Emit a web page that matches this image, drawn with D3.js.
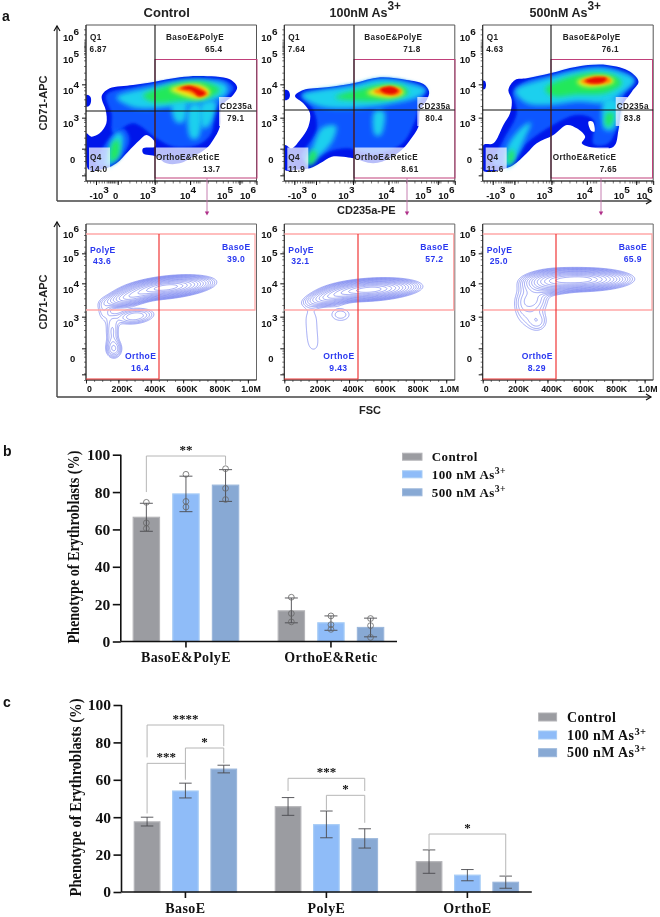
<!DOCTYPE html>
<html><head><meta charset="utf-8">
<script src="https://cdnjs.cloudflare.com/ajax/libs/d3/7.8.5/d3.min.js"></script>
<style>html,body{margin:0;padding:0;background:#fff}svg{display:block;filter:blur(0.35px)}</style>
</head><body><svg id="c" width="660" height="917"></svg>
<script>
// ---------- bar chart data ----------
const seriesNames = ["Control", "100 nM As", "500 nM As"];
const seriesSup = ["", "3+", "3+"];
const seriesFill = ["#9b9ca1", "#8fbcf8", "#88a9d4"];
const seriesEdge = ["#b4b4b8", "#a8cdf6", "#9db8dc"];

const groupsB = ["BasoE&PolyE", "OrthoE&Retic"];
const meansB = [[66.5, 79, 83.7], [16.4, 10, 7.5]];
const lowB = [[59, 69.5, 75], [10, 6, 2.5]];
const highB = [[74, 88.5, 92], [23.3, 13.7, 12.5]];
const pointsB = [[[74.5, 63.5, 60.5], [89.5, 75, 72], [92.5, 82, 76]],
                 [[23.7, 15, 10.5], [13.7, 9, 6.5], [12.3, 8.5, 2.2]]];
// bracket: group, from series, to series, top, left end, right end, label
const bracketsB = [[0, 0, 2, 99.3, 80, 94.6, "**"]];

const groupsC = ["BasoE", "PolyE", "OrthoE"];
const meansC = [[37.5, 54, 65.7], [45.6, 36, 28.5], [16.2, 9, 5.2]];
const lowC = [[35.3, 50.3, 63.7], [41, 29, 23.5], [10, 6, 2]];
const highC = [[40, 58.2, 67.8], [50.5, 43.3, 33.8], [22.5, 12, 8.5]];
const bracketsC = [
  [0, 0, 2, 89.3, 72, 78, "****"],
  [0, 0, 1, 68.8, 42, 60.8, "***"],
  [0, 1, 2, 77, 60, 68.8, "*"],
  [1, 0, 2, 60.8, 54, 54, "***"],
  [1, 1, 2, 51.7, 43.9, 37, "*"],
  [2, 0, 2, 31, 22.5, 8.2, "*"]
];
const yTicks = [0, 20, 40, 60, 80, 100];

// ---------- flow panels: labels ----------
const conditionTitles = ["Control", "100nM As", "500nM As"];
const topValues = [
  {q1: "6.87", baso: "65.4", cd: "79.1", ortho: "13.7", q4: "14.0"},
  {q1: "7.64", baso: "71.8", cd: "80.4", ortho: "8.61", q4: "11.9"},
  {q1: "4.63", baso: "76.1", cd: "83.8", ortho: "7.65", q4: "11.6"}
];
const bottomValues = [
  {poly: "43.6", baso: "39.0", ortho: "16.4"},
  {poly: "32.1", baso: "57.2", ortho: "9.43"},
  {poly: "25.0", baso: "65.9", ortho: "8.29"}
];
const fscTicks = [0, 200, 400, 600, 800, 1000];
const fscLabels = ["0", "200K", "400K", "600K", "800K", "1.0M"];
const densityColors = ["#0616ea", "#0a56ff", "#1fd0ee", "#22e85a", "#f2f01e", "#ff8400", "#e80a00"];

// pseudocolour density outlines in channel units [level, points]
const densityControl = [
 [0,[[307,285],[330,265],[400,255],[465,245],[540,232],[600,228],[690,238],[712,262],[700,285],[665,320],[660,380],[640,420],[620,445],[580,470],[540,490],[500,490],[470,470],[430,460],[430,445],[465,440],[465,425],[440,405],[420,420],[385,455],[350,490],[320,505],[270,510],[262,500],[260,400],[275,410],[300,400],[320,370],[318,330],[307,300]]],
 [0,[[260,285],[272,290],[274,305],[268,318],[260,320]]],
 [1,[[320,285],[400,262],[470,248],[540,238],[600,234],[680,243],[702,265],[675,295],[645,330],[635,400],[595,435],[520,440],[470,415],[400,370],[340,400],[335,340]]],
 [1,[[290,495],[325,420],[370,385],[390,420],[350,485]]],
 [2,[[350,292],[470,258],[540,243],[610,240],[680,255],[680,282],[620,305],[540,315],[470,325],[400,322]]],
 [2,[[518,305],[558,305],[552,365],[528,365]]],
 [2,[[570,315],[602,315],[594,415],[573,415]]],
 [2,[[606,310],[648,305],[630,375],[610,385]]],
 [2,[[322,500],[332,430],[355,396],[370,408],[362,460],[335,492]]],
 [3,[[334,484],[338,430],[356,420],[354,472]]],
 [3,[[430,288],[500,258],[560,246],[625,248],[660,270],[625,293],[540,303],[470,308]]],
 [4,[[510,268],[560,254],[610,258],[632,278],[600,296],[550,287]]],
 [5,[[530,267],[565,256],[605,263],[625,282],[600,292],[565,278]]],
 [6,[[542,265],[570,258],[598,268],[617,280],[600,289],[575,272]]]
];
const density100 = [
 [0,[[105,288],[130,270],[200,262],[280,250],[360,232],[440,240],[490,252],[507,275],[500,300],[480,330],[475,380],[450,420],[430,445],[390,475],[340,490],[280,475],[250,470],[215,470],[180,490],[150,505],[100,510],[75,510],[75,435],[95,445],[120,420],[145,380],[150,340],[130,310]]],
 [0,[[73,270],[85,272],[90,285],[85,298],[73,300]]],
 [1,[[125,285],[200,268],[280,253],[360,236],[440,243],[497,268],[482,300],[462,370],[425,432],[340,462],[260,445],[190,462],[150,492],[125,470],[170,390],[160,330]]],
 [2,[[125,286],[280,256],[360,238],[440,248],[498,270],[472,292],[400,310],[280,325],[175,318]]],
 [2,[[138,492],[158,440],[188,382],[228,378],[218,422],[172,472]]],
 [2,[[343,335],[372,335],[362,405],[345,405]]],
 [3,[[145,495],[155,450],[170,460],[160,490]]],
 [3,[[225,292],[300,268],[370,253],[432,260],[445,280],[400,297],[300,303]]],
 [4,[[320,278],[370,260],[420,265],[432,280],[390,293]]],
 [5,[[340,274],[385,260],[425,270],[415,285],[375,286]]],
 [6,[[360,268],[395,260],[415,272],[400,282],[370,278]]]
];
const density500 = [
 [0,[[745,270],[765,240],[800,235],[870,220],[950,200],[1040,195],[1110,215],[1135,245],[1115,275],[1085,320],[1075,390],[1060,440],[985,440],[965,430],[975,410],[950,385],[920,375],[880,405],[830,430],[800,460],[760,495],[720,510],[670,512],[670,435],[700,430],[730,375],[750,340],[755,300]]],
 [0,[[668,242],[675,244],[678,255],[675,266],[668,268]]],
 [1,[[760,275],[800,243],[870,226],[950,206],[1040,201],[1122,240],[1092,285],[1072,380],[1042,432],[1000,432],[1000,360],[950,345],[870,380],[800,430],[750,492],[700,492],[730,420],[770,340]]],
 [2,[[765,272],[870,232],[950,212],[1040,206],[1124,240],[1082,282],[1040,308],[950,305],[870,315],[800,310]]],
 [2,[[1033,300],[1072,300],[1060,388],[1033,388]]],
 [2,[[738,502],[743,438],[790,378],[812,368],[792,420],[762,482]]],
 [3,[[1040,340],[1060,340],[1050,378],[1038,378]]],
 [3,[[745,490],[750,450],[762,455],[755,490]]],
 [3,[[855,267],[920,233],[1000,218],[1065,228],[1085,250],[1040,278],[950,283],[880,288]]],
 [4,[[950,245],[1000,228],[1050,232],[1062,245],[1020,259],[970,259]]],
 [5,[[962,244],[1005,229],[1048,234],[1052,245],[1020,253],[985,254]]],
 [6,[[975,243],[1010,232],[1040,235],[1030,247],[995,250]]]
];
const densityHole500 = [[985,365],[998,365],[1003,395],[993,392]];

// contour-plot populations: [FSC (K), CD71 channel, spread FSC, spread CD71, tilt, height]
const populationsControl = [
 [500, 277, 118, 13.5, 0.05, 1],
 [280, 250, 85, 13, 0.1, 0.4],
 [170, 92, 30, 17, 0, 0.125],
 [160, 145, 28, 30, 0, 0.08],
 [300, 190, 72, 14, 0.05, 0.13],
 [105, 205, 28, 22, 0, 0.05]
];
const populations100 = [
 [530, 270, 125, 13.5, 0.03, 1],
 [300, 250, 90, 13, 0.09, 0.32],
 [179, 95, 45, 22, 0, 0.029],
 [170, 130, 45, 22, 0, 0.029],
 [165, 165, 45, 22, 0, 0.029],
 [160, 200, 45, 22, 0, 0.029],
 [345, 195, 55, 18, 0, 0.055]
];
const populations500 = [
 [600, 300, 130, 14, 0.005, 1],
 [420, 292, 85, 17, 0.03, 0.4],
 [335, 175, 45, 22, 0, 0.07],
 [245, 210, 45, 38, 0, 0.045],
 [310, 240, 60, 25, 0, 0.1]
];
const contourLevels = [0.035, 0.046, 0.06, 0.078, 0.1, 0.13, 0.17, 0.22, 0.28, 0.36, 0.46, 0.58, 0.72, 0.87];

// ---------- layout ----------
const svg = d3.select("#c");
const SANS = "'Liberation Sans',Arial,sans-serif", SERIF = "'Liberation Serif','Times New Roman',serif";
const panelLeft = [86, 284.3, 482.7], panelW = 170.5;
const densityOrigin = [259, 73, 668];
const densities = [densityControl, density100, density500];
const populations = [populationsControl, populations100, populations500];
const gateV = [155, 354, 551], gateH = [111, 110, 110], arrowX = [207, 407, 601];
const magentaRight = [257, 455, 652.5];
const redV = [159, 358, 556], redR = [255, 453.7, 652];

function txt(x, y, s, o = {}) {
  const t = svg.append("text").attr("x", x).attr("y", y).text(s)
    .attr("font-family", o.f || SANS).attr("font-weight", o.w || "bold")
    .attr("font-size", o.s || 8.5).attr("fill", o.c || "#111")
    .attr("text-anchor", o.a || "start");
  if (o.ls) t.attr("letter-spacing", o.ls);
  if (o.len) t.attr("textLength", o.len).attr("lengthAdjust", "spacingAndGlyphs");
  if (o.r !== undefined) t.attr("transform", `rotate(${o.r},${x},${y})`);
  return t;
}
function sup(x, y, base, power, o, dy = -5, ss = 0.8) {
  const t = txt(x, y, base, o);
  t.append("tspan").attr("dy", dy).attr("font-size", (o.s || 8.5) * ss).text(power);
  return t;
}

const defs = svg.append("defs");
[0.7, 1.6, 2.4, 2.8, 2.2, 1.6, 1.3].forEach((b, i) => {
  defs.append("filter").attr("id", "blur" + i).attr("x", "-30%").attr("y", "-30%").attr("width", "160%").attr("height", "160%")
    .append("feGaussianBlur").attr("stdDeviation", b);
});

// big L-shaped axes
function bigAxis(x, yTop, yBot, xEnd) {
  svg.append("line").attr("x1", x).attr("x2", x).attr("y1", yTop).attr("y2", yBot).attr("stroke", "#333").attr("stroke-width", 1.3);
  svg.append("line").attr("x1", x).attr("x2", xEnd).attr("y1", yBot).attr("y2", yBot).attr("stroke", "#444").attr("stroke-width", 1.3);
  svg.append("path").attr("d", `M${x-3},${yTop+5} L${x},${yTop} L${x+3},${yTop+5}`).attr("fill", "none").attr("stroke", "#111").attr("stroke-width", 1.2);
  svg.append("path").attr("d", `M${xEnd-5},${yBot-3} L${xEnd},${yBot} L${xEnd-5},${yBot+3}`).attr("fill", "none").attr("stroke", "#111").attr("stroke-width", 1.2);
}
bigAxis(57, 26, 201, 651);
bigAxis(57, 222, 397, 651);

const logYTicks = ["6", "5", "4", "3"];

function flowFrame(i, top, bottom, gray) {
  const L = panelLeft[i], R = L + panelW;
  svg.append("path").attr("d", `M${L},${bottom} V${top} H${R} V${bottom} H${L}`).attr("fill", "none").attr("stroke", gray).attr("stroke-width", 1);
  svg.append("line").attr("x1", L).attr("x2", L).attr("y1", top).attr("y2", bottom).attr("stroke", "#222").attr("stroke-width", 0.9);
  svg.append("line").attr("x1", L).attr("x2", R).attr("y1", bottom).attr("y2", bottom).attr("stroke", "#222").attr("stroke-width", 0.9);
}

panelLeft.forEach((L, i) => {
  const R = L + panelW, T = 25, B = 181;
  // ---- top row ----
  const o = densityOrigin[i];
  const sx = d3.scaleLinear().domain([o, o + 511]).range([L, R]);
  const sy = d3.scaleLinear().domain([543, 75]).range([B, T]);
  const line = d3.line().x(d => sx(d[0])).y(d => sy(d[1])).curve(d3.curveCatmullRomClosed.alpha(0.5));
  const clipId = "clipTop" + i;
  defs.append("clipPath").attr("id", clipId).append("rect").attr("x", L).attr("y", T).attr("width", panelW).attr("height", B - T);
  const g = svg.append("g").attr("clip-path", `url(#${clipId})`);
  densities[i].forEach(([lvl, pts]) => {
    g.append("path").attr("d", line(pts)).attr("fill", densityColors[lvl]).attr("filter", `url(#blur${lvl})`);
  });
  if (i === 2) g.append("path").attr("d", line(densityHole500)).attr("fill", "#fff");
  // translucent label boxes
  const box = (x0, y0, x1, y1) => svg.append("rect").attr("x", L + x0).attr("y", y0).attr("width", x1 - x0).attr("height", y1 - y0).attr("fill", "#fff").attr("opacity", 0.72);
  box(3, 147.5, 24, 170);
  box(133, 97, 145, 126);
  box(70, 147.5, 126, 165);
  flowFrame(i, T, B, "#555");

  // axes ticks
  const xAx = d3.scaleLinear().domain([0, 511]).range([L, R]);
  const minorX = [3, 12, 22, 30, 38, 47, 54, 62, 66, 70, 72, 76, 78, 82, 84, 88, 95, 105, 130, 150, 165, 180, 190, 198, 204, 208, 212, 235, 260, 280, 300, 312, 322, 330, 335, 340, 365, 390, 410, 425, 440, 448, 455, 460, 464, 468, 490, 505, 509];
  const ax = svg.append("g").attr("transform", `translate(0,${B})`)
    .call(d3.axisBottom(xAx).tickValues(minorX).tickSize(2.5).tickFormat(""));
  ax.select(".domain").remove();
  ax.selectAll("line").attr("stroke", "#222").attr("stroke-width", 0.6);
  const majorX = svg.append("g").attr("transform", `translate(0,${B})`)
    .call(d3.axisBottom(xAx).tickValues([30, 95, 206, 312, 460, 511]).tickSize(4).tickFormat(""));
  majorX.select(".domain").remove();
  majorX.selectAll("line").attr("stroke", "#111").attr("stroke-width", 1);

  const yAx = d3.scaleLinear().domain([468, 0]).range([T, B]);
  const yTickG = svg.append("g").attr("transform", `translate(${L},0)`)
    .call(d3.axisLeft(yAx).tickValues([17, 97, 190, 290]).tickSize(4).tickFormat(""));
  yTickG.select(".domain").remove();
  yTickG.selectAll("line").attr("stroke", "#111");
  const yMinor = svg.append("g").attr("transform", `translate(${L},0)`)
    .call(d3.axisLeft(yAx).tickValues([0,22,40,60,75,85,92,110,130,150,165,177,184,203,225,245,260,272,282,305,325,345,362,372,380,384,390,394,398,402,405,409,413,418,424,440,455]).tickSize(2).tickFormat(""));
  yMinor.select(".domain").remove();
  yMinor.selectAll("line").attr("stroke", "#222").attr("stroke-width", 0.6);

  // gates
  svg.append("rect").attr("x", gateV[i]).attr("y", 59.5).attr("width", magentaRight[i] - gateV[i]).attr("height", 118.5).attr("fill", "none").attr("stroke", "#c0407a").attr("stroke-width", 1);
  svg.append("line").attr("x1", gateV[i]).attr("x2", gateV[i]).attr("y1", T).attr("y2", B).attr("stroke", "#111").attr("stroke-width", 1.1);
  svg.append("line").attr("x1", L).attr("x2", R).attr("y1", gateH[i]).attr("y2", gateH[i]).attr("stroke", "#111").attr("stroke-width", 1.1);

  // magenta arrow
  svg.append("line").attr("x1", arrowX[i]).attr("x2", arrowX[i]).attr("y1", 178).attr("y2", 212).attr("stroke", "#c070a8").attr("stroke-width", 0.9);
  svg.append("path").attr("d", d3.line()([[arrowX[i] - 2.2, 211.5], [arrowX[i] + 2.2, 211.5], [arrowX[i], 215.5]])).attr("fill", "#b0308a");

  // texts top
  const v = topValues[i];
  const lab = {s: 8.2, c: "#222", ls: 0.35};
  txt(L + 4, 40, "Q1", lab); txt(L + 3.5, 52, v.q1, lab);
  txt(L + 80, 40, "BasoE&PolyE", lab); txt(L + 119, 52, v.baso, lab);
  txt(L + 134, 108.5, "CD235a", lab); txt(L + 141, 121, v.cd, lab);
  txt(L + 70, 159.5, "OrthoE&ReticE", lab); txt(L + 117, 172, v.ortho, lab);
  txt(L + 4, 159.5, "Q4", lab); txt(L + 4, 172, v.q4, lab);

  // tick labels top
  const tk = {s: 9.5, c: "#111"};
  logYTicks.forEach((p, k) => {
    const by = [41, 63, 93.5, 127][k];
    sup(L - 23, by, "10", p, tk, -6, 1.05);
  });
  txt(L - 16, 163, "0", tk);
  sup(L + 3.5, 199, "-10", "3", tk, -6, 1.05);
  txt(L + 27, 199, "0", tk);
  sup(L + 54, 199, "10", "3", tk, -6, 1.05);
  sup(L + 94, 199, "10", "4", tk, -6, 1.05);
  sup(L + 131, 199, "10", "5", tk, -6, 1.05);
  sup(L + 154, 199, "10", "6", tk, -6, 1.05);

  // ---- bottom row ----
  const T2 = 224, B2 = 380;
  const fsc = d3.scaleLinear().domain([0, 1050]).range([L, L + 170]);
  const ch = d3.scaleLinear().domain([0, 468]).range([B2, T2]);
  const W = 260, H = 240, step = 5;
  const grid = new Float64Array(W * H);
  for (let r = 0; r < H; r++) for (let c = 0; c < W; c++) {
    const X = c * step, Y = r * 2; let d = 0;
    populations[i].forEach(([mx, my, s1, s2, tilt, h]) => {
      const a = (X - mx) / s1, b = (Y - my - tilt * (X - mx)) / s2;
      d += h * Math.exp(-0.5 * (a * a + b * b));
    });
    grid[r * W + c] = d;
  }
  const cont = d3.contours().size([W, H]).thresholds(contourLevels)(grid);
  const path = d3.geoPath(d3.geoTransform({point(px, py) { this.stream.point(fsc(px * step), ch(py * 2)); }}));
  svg.append("g").selectAll("path").data(cont).join("path").attr("d", path)
    .attr("fill", "none").attr("stroke", "#6a78ee").attr("stroke-width", 0.7).attr("opacity", 0.9);

  flowFrame(i, T2, B2, "#666");
  const fa = svg.append("g").attr("transform", `translate(0,${B2})`)
    .call(d3.axisBottom(fsc).tickValues(d3.range(0, 1050, 50)).tickSize(2).tickFormat(""));
  fa.select(".domain").remove(); fa.selectAll("line").attr("stroke", "#222").attr("stroke-width", 0.6);
  const fb = svg.append("g").attr("transform", `translate(0,${B2})`)
    .call(d3.axisBottom(fsc).tickValues(fscTicks).tickSize(3.5).tickFormat(""));
  fb.select(".domain").remove(); fb.selectAll("line").attr("stroke", "#111").attr("stroke-width", 0.9);
  fscTicks.forEach((t, k) => txt(L + [3.5, 36, 69, 101, 134, 165][k], 392, fscLabels[k], {s: 8.8, a: "middle", c: "#111"}));

  const yb = svg.append("g").attr("transform", `translate(${L},0)`)
    .call(d3.axisLeft(ch).tickValues([17, 95, 190, 290, 380]).tickSize(4).tickFormat(""));
  yb.select(".domain").remove(); yb.selectAll("line").attr("stroke", "#111");
  const ym = svg.append("g").attr("transform", `translate(${L},0)`)
    .call(d3.axisLeft(ch).tickValues([0,20,40,55,70,80,88,110,130,150,165,177,184,205,225,245,260,272,282,305,325,345,362,372,385,400,420,435,450]).tickSize(2).tickFormat(""));
  ym.select(".domain").remove(); ym.selectAll("line").attr("stroke", "#222").attr("stroke-width", 0.6);

  // red gates
  const pink = "#ffa8a8", red = "#f03838";
  svg.append("path").attr("d", `M${L},234 H${redR[i]} V310 H${L}`).attr("fill", "none").attr("stroke", pink).attr("stroke-width", 1.3);
  svg.append("path").attr("d", `M${L},379 H${redV[i]} V234`).attr("fill", "none").attr("stroke", red).attr("stroke-width", 1.2);

  const bv = bottomValues[i], blue = {s: 8.6, c: "#2a38f0", ls: 0.35};
  txt(L + 4, 252.5, "PolyE", blue); txt(L + 7, 264, bv.poly, blue);
  txt(L + 136, 250, "BasoE", blue); txt(L + 141, 261.5, bv.baso, blue);
  txt(L + 39, 359, "OrthoE", blue); txt(L + 45, 371, bv.ortho, blue);

  const tk2 = {s: 9.5, c: "#111"};
  [238, 262, 293, 327].forEach((by, k) => sup(L - 23, by, "10", ["6", "5", "4", "3"][k], tk2, -6, 1.05));
  txt(L - 16, 362, "0", tk2);
});

// titles
txt(166.7, 17, conditionTitles[0], {s: 13, a: "middle", c: "#222"});
sup(329.5, 17, conditionTitles[1], "3+", {s: 12.5, c: "#222"}, -7, 0.95);
sup(529.5, 17, conditionTitles[2], "3+", {s: 12.5, c: "#222"}, -7, 0.95);
txt(47, 103, "CD71-APC", {s: 11, a: "middle", r: -90, c: "#222"});
txt(47, 302, "CD71-APC", {s: 11, a: "middle", r: -90, c: "#222"});
txt(337, 214, "CD235a-PE", {s: 11, c: "#222"});
txt(370, 414, "FSC", {s: 11, a: "middle", c: "#222"});
txt(2, 21, "a", {s: 14, c: "#111"});
txt(3, 456, "b", {s: 14, c: "#111"});
txt(3, 707, "c", {s: 14, c: "#111"});

// ---------- bar charts ----------
function barChart(cfg) {
  const y = d3.scaleLinear().domain([0, 100]).range([cfg.y0, cfg.y100]);
  const groupPad = cfg.gap / (cfg.barStep * 3 - (cfg.barStep - cfg.barW) + cfg.gap);
  const x0 = d3.scaleBand().domain(cfg.groups).range(cfg.xRange).paddingInner(groupPad);
  const x1 = d3.scaleBand().domain(d3.range(3)).range([0, x0.bandwidth()]).paddingInner(1 - cfg.barW / cfg.barStep);
  const g = svg.append("g");
  cfg.groups.forEach((name, gi) => {
    d3.range(3).forEach(si => {
      const cx = x0(name) + x1(si) + x1.bandwidth() / 2;
      g.append("rect").attr("x", x0(name) + x1(si)).attr("y", y(cfg.means[gi][si]))
        .attr("width", x1.bandwidth()).attr("height", y(0) - y(cfg.means[gi][si]))
        .attr("fill", seriesFill[si]).attr("stroke", seriesEdge[si]).attr("stroke-width", 1.2);
      const ec = "#4a4a4e";
      const cap = cfg.cap / 2;
      g.append("line").attr("x1", cx).attr("x2", cx).attr("y1", y(cfg.low[gi][si])).attr("y2", y(cfg.high[gi][si])).attr("stroke", ec).attr("stroke-width", 0.9);
      [cfg.low[gi][si], cfg.high[gi][si]].forEach(v =>
        g.append("line").attr("x1", cx - cap).attr("x2", cx + cap).attr("y1", y(v)).attr("y2", y(v)).attr("stroke", ec).attr("stroke-width", 0.9));
      if (cfg.points) cfg.points[gi][si].forEach(v =>
        g.append("circle").attr("cx", cx).attr("cy", y(v)).attr("r", 2.9).attr("fill", "none").attr("stroke", "#666").attr("stroke-width", 0.8));
    });
  });
  const xc = (gi, si) => x0(cfg.groups[gi]) + x1(si) + x1.bandwidth() / 2;
  cfg.brackets.forEach(([gi, a, b, top, la, ra, label]) => {
    const xa = xc(gi, a), xb = xc(gi, b);
    g.append("path").attr("d", `M${xa},${y(la)} V${y(top)} H${xb} V${y(ra)}`).attr("fill", "none").attr("stroke", "#b6b6b6").attr("stroke-width", 1);
    txt((xa + xb) / 2, y(top) - 2.5, label, {f: SERIF, s: cfg.star, a: "middle", c: "#111"});
  });
  // axes
  const ay = svg.append("g").attr("transform", `translate(${cfg.axisX},0)`)
    .call(d3.axisLeft(y).tickValues(yTicks).tickSize(8).tickPadding(2.5));
  ay.selectAll("line").attr("stroke", "#111").attr("stroke-width", 1.6);
  ay.select(".domain").attr("stroke", "#111").attr("stroke-width", 1.6).attr("d", `M0,${cfg.y0}V${cfg.y100}`);
  ay.selectAll("text").attr("font-family", SERIF).attr("font-weight", "bold").attr("font-size", 15.5).attr("fill", "#111");
  const ax = svg.append("g").attr("transform", `translate(0,${cfg.y0})`)
    .call(d3.axisBottom(x0).tickSize(6).tickPadding(5));
  ax.select(".domain").attr("stroke", "#111").attr("stroke-width", 1.6).attr("d", `M${cfg.axisX},0H${cfg.axisEnd}`);
  ax.selectAll("line").attr("stroke", "#111").attr("stroke-width", 1.6);
  ax.selectAll("text").attr("font-family", SERIF).attr("font-weight", "bold").attr("font-size", 14).attr("letter-spacing", 0.4).attr("fill", "#111");
  txt(cfg.titleX, (cfg.y0 + cfg.y100) / 2 - 1, "Phenotype of Erythroblasts (%)", {f: SERIF, s: cfg.titleSize, a: "middle", r: -90, c: "#111", len: cfg.titleLen});
  // legend
  seriesNames.forEach((n, i) => {
    svg.append("rect").attr("x", cfg.legX).attr("y", cfg.legY[i] - cfg.legH / 2).attr("width", cfg.legW).attr("height", cfg.legH)
      .attr("fill", seriesFill[i]).attr("stroke", seriesEdge[i]);
    const t = txt(cfg.legText, cfg.legY[i] + 4.5, n, {f: SERIF, s: cfg.legSize, c: "#111", ls: 0.4});
    if (seriesSup[i]) t.append("tspan").attr("dy", -5).attr("font-size", cfg.legSize * 0.75).text(seriesSup[i]);
  });
}
barChart({groups: groupsB, means: meansB, low: lowB, high: highB, points: pointsB, brackets: bracketsB,
  y0: 641.5, y100: 454.7, xRange: [133.2, 383.7], barW: 26.3, barStep: 39.6, gap: 39.5, cap: 13, star: 13,
  axisX: 120.8, axisEnd: 397, titleX: 79, titleSize: 16, titleLen: 193,
  legX: 402.5, legW: 19.5, legH: 7, legY: [456.7, 474.3, 492.3], legText: 431.8, legSize: 13});
barChart({groups: groupsC, means: meansC, low: lowC, high: highC, brackets: bracketsC,
  y0: 892, y100: 705, xRange: [134.3, 518.5], barW: 25.6, barStep: 38.4, gap: 38.8, cap: 12.5, star: 13,
  axisX: 121.5, axisEnd: 531.8, titleX: 81, titleSize: 16.5, titleLen: 198,
  legX: 538.6, legW: 18, legH: 8, legY: [717, 735, 752.7], legText: 567, legSize: 14});
</script></body></html>
